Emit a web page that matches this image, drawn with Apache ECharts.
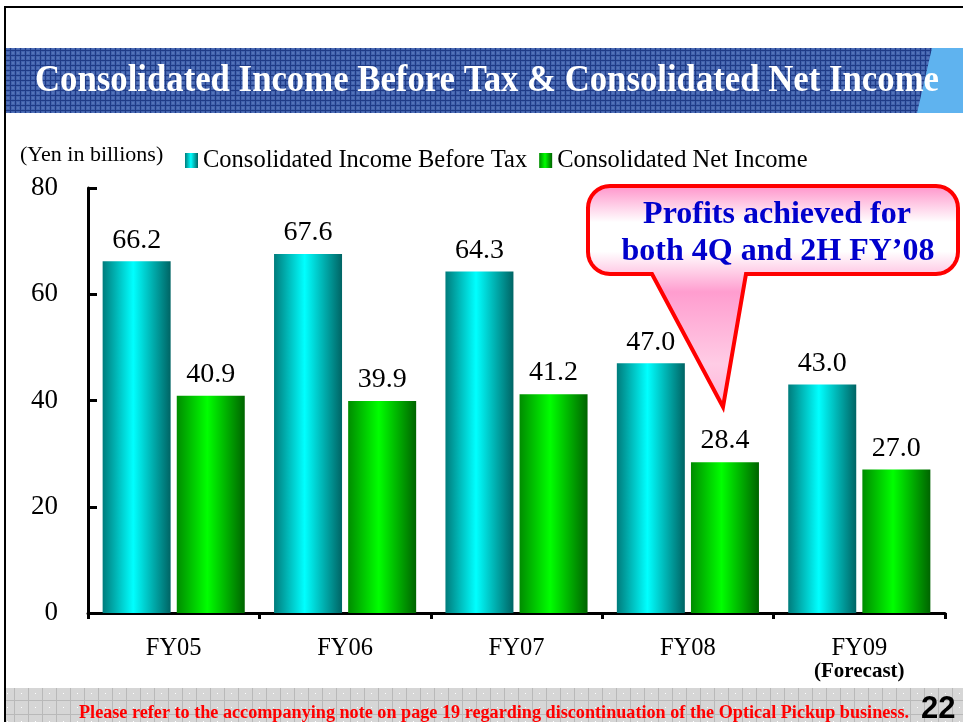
<!DOCTYPE html>
<html>
<head>
<meta charset="utf-8">
<script src="https://cdn.jsdelivr.net/npm/echarts@6/dist/echarts.min.js"></script>
<style>
  html, body { margin: 0; padding: 0; background: #fff; }
  #main { width: 963px; height: 722px; }
</style>
</head>
<body>
<div id="main"></div>
<script>
// data
var categories = ['FY05', 'FY06', 'FY07', 'FY08', 'FY09'];
var incomeBeforeTax = [66.2, 67.6, 64.3, 47.0, 43.0];
var netIncome = [40.9, 39.9, 41.2, 28.4, 27.0];
var seriesNames = ['Consolidated Income Before Tax', 'Consolidated Net Income'];
var yTicks = { min: 0, max: 80, interval: 20 };

var titleText = 'Consolidated Income Before Tax & Consolidated Net Income';
var noteText = 'Please refer to the accompanying note on page 19 regarding discontinuation of the Optical Pickup business.';
var serif = '"Liberation Serif", "Times New Roman", serif';

// squeeze text to a given width (slide fonts are condensed)
function fitScale(text, font, width) {
    var ctx = document.createElement('canvas').getContext('2d');
    ctx.font = font;
    return width / ctx.measureText(text).width;
}

function makePattern(size, base, line, dot) {
    var c = document.createElement('canvas');
    c.width = size; c.height = size;
    var g = c.getContext('2d');
    g.fillStyle = base; g.fillRect(0, 0, size, size);
    g.fillStyle = line;
    g.fillRect(0, 0, size, 1); g.fillRect(0, 0, 1, size);
    if (dot) { g.fillStyle = dot; g.fillRect(size / 2, size / 2, 1, 1); }
    return c;
}

function grad(c1, c2, c3) {
    return new echarts.graphic.LinearGradient(0, 0, 1, 0, [
        { offset: 0, color: c1 }, { offset: 0.45, color: c2 }, { offset: 1, color: c3 }
    ]);
}

// rounded speech bubble outline as polygon points
function bubblePoints(l, t, r, b, rad, tail) {
    var pts = [];
    function arc(cx, cy, a0) {
        for (var i = 0; i <= 8; i++) {
            var a = (a0 + i * 90 / 8) * Math.PI / 180;
            pts.push([cx + rad * Math.cos(a), cy + rad * Math.sin(a)]);
        }
    }
    arc(l + rad, t + rad, 180);
    arc(r - rad, t + rad, 270);
    arc(r - rad, b - rad, 0);
    pts.push([tail[1], b], [tail[2], tail[3]], [tail[0], b]);
    arc(l + rad, b - rad, 90);
    return pts;
}

var titleScale = fitScale(titleText, 'bold 38px ' + serif, 904);
var noteScale = fitScale(noteText, 'bold 18px ' + serif, 830);

var valueLabel = {
    show: true, position: 'top', distance: 7, color: '#000', fontFamily: serif, fontSize: 28,
    formatter: function (p) { return p.value.toFixed(1); }
};

var myChart = echarts.init(document.getElementById('main'));
var option = {
    animation: false,
    grid: { left: 88, right: 18, top: 188, bottom: 109 },
    legend: {
        left: 180, top: 143, icon: 'rect', itemWidth: 13, itemHeight: 15, itemGap: 12,
        textStyle: { fontFamily: serif, fontSize: 24.5, color: '#000' },
        data: seriesNames
    },
    xAxis: {
        type: 'category', data: categories,
        axisLine: { lineStyle: { color: '#000', width: 3 } },
        axisTick: { show: true, interval: 0, length: 6, lineStyle: { color: '#000', width: 3 } },
        axisLabel: {
            interval: 0, margin: 24, color: '#000', fontFamily: serif, fontSize: 24.5, lineHeight: 24,
            formatter: function (v) { return v === 'FY09' ? v + '\n{f|(Forecast)}' : v; },
            rich: { f: { fontFamily: serif, fontSize: 21, fontWeight: 'bold', color: '#000', lineHeight: 22 } }
        }
    },
    yAxis: {
        type: 'value', min: yTicks.min, max: yTicks.max, interval: yTicks.interval,
        axisLine: { show: true, lineStyle: { color: '#000', width: 3 } },
        axisTick: { show: true, inside: true, length: 9, lineStyle: { color: '#000', width: 3 } },
        axisLabel: { margin: 30, color: '#000', fontFamily: serif, fontSize: 27 },
        splitLine: { show: false }
    },
    series: [{
        name: seriesNames[0], type: 'bar', data: incomeBeforeTax,
        barWidth: 68, barGap: '9%',
        itemStyle: { color: grad('#007c7c', '#00ffff', '#006464') },
        label: valueLabel
    }, {
        name: seriesNames[1], type: 'bar', data: netIncome,
        barWidth: 68,
        itemStyle: { color: grad('#008c00', '#00ff00', '#006400') },
        label: valueLabel
    }],
    graphic: [
        // slide frame
        { type: 'line', shape: { x1: 4, y1: 7, x2: 963, y2: 7 }, style: { stroke: '#000', lineWidth: 2 } },
        { type: 'line', shape: { x1: 5, y1: 7, x2: 5, y2: 722 }, style: { stroke: '#000', lineWidth: 2 } },
        // title band
        { type: 'rect', shape: { x: 6, y: 48, width: 957, height: 65 },
          style: { fill: { image: makePattern(5, '#4263ae', '#1f3a86', '#8aa0d6'), repeat: 'repeat' } } },
        { type: 'polygon', shape: { points: [[932, 48], [963, 48], [963, 113], [917, 113]] },
          style: { fill: '#5fb3ef' } },
        { type: 'text', x: 35, y: 81, scaleX: titleScale,
          style: { text: titleText, font: 'bold 38px ' + serif, fill: '#fff', verticalAlign: 'middle' } },
        // unit note
        { type: 'text', x: 20, y: 155,
          style: { text: '(Yen in billions)', font: '22px ' + serif, fill: '#000', verticalAlign: 'middle' } },
        // callout
        { type: 'polygon', z: 50, shape: { points: bubblePoints(588, 186, 958, 274, 22, [652, 746, 723, 407]) },
          style: {
              fill: new echarts.graphic.LinearGradient(0, 0, 0, 1, [
                  { offset: 0, color: '#ff8fc8' }, { offset: 0.17, color: '#ffffff' },
                  { offset: 0.3, color: '#ffffff' }, { offset: 0.48, color: '#ff9dcf' },
                  { offset: 0.8, color: '#ffcce5' }, { offset: 1, color: '#ffb3d9' }
              ]),
              stroke: '#ff0000', lineWidth: 4, lineJoin: 'miter'
          } },
        { type: 'text', z: 51, x: 777, y: 215,
          style: { text: 'Profits achieved for', font: 'bold 32px ' + serif, fill: '#0000cc',
                   align: 'center', verticalAlign: 'middle' } },
        { type: 'text', z: 51, x: 778, y: 252,
          style: { text: 'both 4Q and 2H FY\u201908', font: 'bold 32px ' + serif, fill: '#0000cc',
                   align: 'center', verticalAlign: 'middle' } },
        // footer band
        { type: 'rect', shape: { x: 6, y: 688, width: 957, height: 34 },
          style: { fill: { image: makePattern(14, '#d6d6d6', '#b9b9b9', '#ffffff'), repeat: 'repeat' } } },
        { type: 'text', x: 79, y: 713, scaleX: noteScale,
          style: { text: noteText, font: 'bold 18px ' + serif, fill: '#ff0000', verticalAlign: 'middle' } },
        { type: 'text', x: 921, y: 709,
          style: { text: '22', font: 'bold 31px "Liberation Sans", Arial, sans-serif', fill: '#000', verticalAlign: 'middle' } }
    ]
};

myChart.setOption(option);
</script>
</body>
</html>
